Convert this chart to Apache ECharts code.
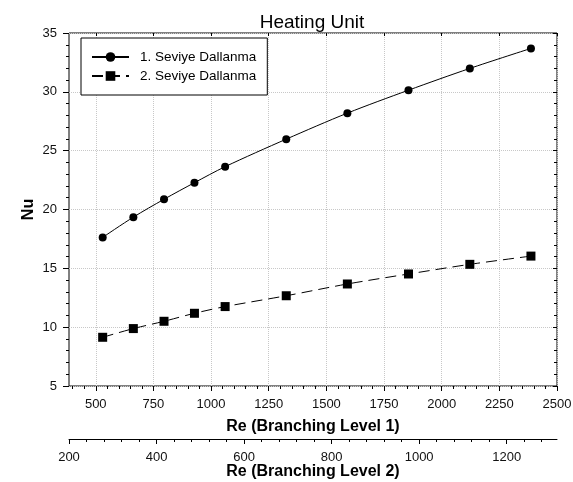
<!DOCTYPE html>
<html>
<head>
<meta charset="utf-8">
<script src="https://cdn.jsdelivr.net/npm/echarts@6/dist/echarts.min.js"></script>
<style>
html,body{margin:0;padding:0;background:#fff;}
#chart{width:573px;height:482px;}
</style>
</head>
<body>
<div id="chart"></div>
<script>
// Data
const re1 = [530, 663, 796, 928, 1061, 1326, 1591, 1856, 2122, 2387];
const nu1 = [17.63, 19.35, 20.87, 22.28, 23.64, 25.98, 28.19, 30.14, 31.99, 33.69];
const nu2 = [9.14, 9.88, 10.50, 11.18, 11.75, 12.67, 13.67, 14.52, 15.34, 16.04];
const seriesNames = ['1. Seviye Dallanma', '2. Seviye Dallanma'];
const re1Ticks = [500, 750, 1000, 1250, 1500, 1750, 2000, 2250, 2500];
const re2Ticks = [200, 400, 600, 800, 1000, 1200];
const re1MinorTicks = [400,450,500,550,600,650,700,750,800,850,900,950,1000,1050,1100,1150,1200,1250,1300,1350,1400,1450,1500,1550,1600,1650,1700,1750,1800,1850,1900,1950,2000,2050,2100,2150,2200,2250,2300,2350,2400,2450,2500];
const re2MinorTicks = [200,240,280,320,360,400,440,480,520,560,600,640,680,720,760,800,840,880,920,960,1000,1040,1080,1120,1160,1200,1240,1280];

const FONT = '"Liberation Sans", Arial, sans-serif';
const RE1_MIN = 384, RE1_MAX = 2500, RE2_MIN = 200, RE2_MAX = 1315;

const chart = echarts.init(document.getElementById('chart'), null, {renderer: 'canvas'});
const plain = v => String(v);
const lbl = {fontSize: 13, color: '#111', fontFamily: FONT, formatter: plain};
const nameStyle = {fontSize: 16, fontWeight: 'bold', color: '#000', fontFamily: FONT};

chart.setOption({
  animation: false,
  backgroundColor: '#fff',
  graphic: [{
    type: 'text', x: 312, y: 23,
    style: {text: 'Heating Unit', fontSize: 19, fontFamily: FONT, fill: '#000',
      align: 'center', verticalAlign: 'middle', textAlign: 'center', textVerticalAlign: 'middle'}
  }],
  grid: {left: 69, right: 16, top: 33, bottom: 96, show: true, borderColor: '#000', borderWidth: 1,
    containLabel: false, outerBoundsMode: 'none'},
  legend: {
    orient: 'vertical', left: 81, top: 38,
    padding: [12, 11, 12, 10], itemGap: 5, itemWidth: 37, itemHeight: 12,
    borderColor: '#000', borderWidth: 1, backgroundColor: '#fff',
    textStyle: {fontSize: 13.5, color: '#000', fontFamily: FONT, padding: [0, 0, 0, 6]},
    data: seriesNames
  },
  xAxis: [
    { // Re level 1
      type: 'value', position: 'bottom', min: RE1_MIN, max: RE1_MAX,
      name: 'Re (Branching Level 1)', nameLocation: 'middle', nameGap: 33, nameMoveOverlap: false, nameTextStyle: nameStyle,
      axisLine: {show: false},
      axisTick: {show: true, length: 5, customValues: re1Ticks, lineStyle: {color: '#000'}},
      axisLabel: Object.assign({margin: 12, customValues: re1Ticks}, lbl),
      splitLine: {show: true, lineStyle: {color: '#c8c8c8', type: 'dotted', width: 1}}
    },
    { // Re level 2
      type: 'value', position: 'bottom', offset: 53, min: RE2_MIN, max: RE2_MAX,
      name: 'Re (Branching Level 2)', nameLocation: 'middle', nameGap: 25, nameMoveOverlap: false, nameTextStyle: nameStyle,
      axisLine: {show: true, lineStyle: {color: '#000', width: 1}},
      axisTick: {show: true, length: 5, customValues: re2Ticks, lineStyle: {color: '#000'}},
      axisLabel: Object.assign({margin: 12, customValues: re2Ticks}, lbl),
      splitLine: {show: false}
    },
    { // minor ticks level 1
      type: 'value', position: 'bottom', min: RE1_MIN, max: RE1_MAX,
      axisLine: {show: false},
      axisTick: {show: true, length: 3, customValues: re1MinorTicks, lineStyle: {color: '#000'}},
      axisLabel: {show: false}, splitLine: {show: false}
    },
    { // minor ticks level 2
      type: 'value', position: 'bottom', offset: 53, min: RE2_MIN, max: RE2_MAX,
      axisLine: {show: false},
      axisTick: {show: true, length: 3, customValues: re2MinorTicks, lineStyle: {color: '#000'}},
      axisLabel: {show: false}, splitLine: {show: false}
    },
    { // top frame ticks
      type: 'value', position: 'top', min: RE1_MIN, max: RE1_MAX,
      axisLine: {show: false},
      axisTick: {show: true, inside: true, length: 3, customValues: re1Ticks, lineStyle: {color: '#000'}},
      axisLabel: {show: false}, splitLine: {show: false}
    }
  ],
  yAxis: [
    {
      type: 'value', position: 'left', min: 5, max: 35, interval: 5,
      name: 'Nu', nameLocation: 'middle', nameGap: 32, nameMoveOverlap: false, nameTextStyle: nameStyle,
      axisLine: {show: false},
      axisTick: {show: true, length: 6, lineStyle: {color: '#000'}},
      minorTick: {show: true, splitNumber: 5, length: 3, lineStyle: {color: '#000'}},
      axisLabel: Object.assign({margin: 12}, lbl),
      splitLine: {show: true, lineStyle: {color: '#c8c8c8', type: 'dotted', width: 1}}
    },
    {
      type: 'value', position: 'right', min: 5, max: 35, interval: 5,
      axisLine: {show: false},
      axisTick: {show: true, inside: true, length: 4, lineStyle: {color: '#000'}},
      minorTick: {show: true, splitNumber: 5, length: 3, lineStyle: {color: '#000'}},
      axisLabel: {show: false}, splitLine: {show: false}
    }
  ],
  series: [
    {
      name: seriesNames[0], type: 'line', xAxisIndex: 0, yAxisIndex: 0,
      data: re1.map((x, i) => [x, nu1[i]]),
      smooth: 0.3, symbol: 'circle', symbolSize: 8,
      itemStyle: {color: '#000'}, lineStyle: {color: '#000', width: 1, type: 'solid'}
    },
    {
      name: seriesNames[1], type: 'line', xAxisIndex: 0, yAxisIndex: 0,
      data: re1.map((x, i) => [x, nu2[i]]),
      smooth: 0.3, symbol: 'rect', symbolSize: 9,
      itemStyle: {color: '#000'}, lineStyle: {color: '#000', width: 1, type: [11, 6]}
    }
  ]
});
</script>
</body>
</html>
